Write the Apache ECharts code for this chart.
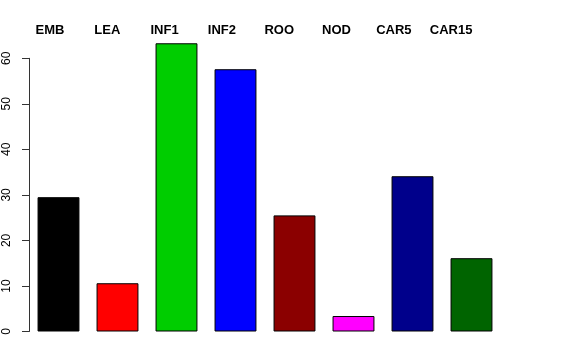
<!DOCTYPE html>
<html><head><meta charset="utf-8">
<script src="https://cdn.jsdelivr.net/npm/echarts@6/dist/echarts.min.js"></script>
<style>html,body{margin:0;padding:0;background:#fff}#c{width:576px;height:360px}</style>
</head><body><div id="c"></div>
<script>
var categories = ['EMB','LEA','INF1','INF2','ROO','NOD','CAR5','CAR15'];
var values = [29.5, 10.6, 63.3, 57.6, 25.5, 3.4, 34.1, 16.1];
var colors = ['#000000','#FF0000','#00CD00','#0000FF','#8B0000','#FF00FF','#00008B','#006400'];
var yTicks = [0,10,20,30,40,50,60];

var chart = echarts.init(document.getElementById('c'), null, {renderer:'canvas'});
chart.setOption({
  animation: false,
  backgroundColor: '#fff',
  grid: [
    {left: 29, width: 472, top: 58.3, bottom: 28.5},
    {left: 21.3, width: 458.5, top: 39, height: 1}
  ],
  xAxis: [
    {type:'category', gridIndex:0, data: categories, axisLine:{show:false}, axisTick:{show:false}, axisLabel:{show:false}},
    {type:'category', gridIndex:1, position:'top', data: categories, axisLine:{show:false}, axisTick:{show:false},
     axisLabel:{show:true, margin:2, color:'#000', fontWeight:'bold', fontSize:13, fontFamily:'Liberation Sans, Arial, sans-serif'}}
  ],
  yAxis: [
    {type:'value', gridIndex:0, min:0, max:60, interval:10, splitLine:{show:false},
     axisLine:{show:true, lineStyle:{color:'#333', width:1}},
     axisTick:{show:true, length:7, lineStyle:{color:'#333'}},
     axisLabel:{rotate:90, margin:16, color:'#000', fontSize:12, fontFamily:'Liberation Sans, Arial, sans-serif',
       formatter:function(v){return yTicks.indexOf(v)>=0? String(v):'';}}},
    {type:'value', gridIndex:1, show:false}
  ],
  series: [{
    type:'bar', xAxisIndex:0, yAxisIndex:0, clip:false,
    barCategoryGap:'29%',
    data: values.map(function(v,i){return {value:v, itemStyle:{color:colors[i]}};}),
    itemStyle:{borderColor:'#000', borderWidth:1}
  }]
});
</script></body></html>
